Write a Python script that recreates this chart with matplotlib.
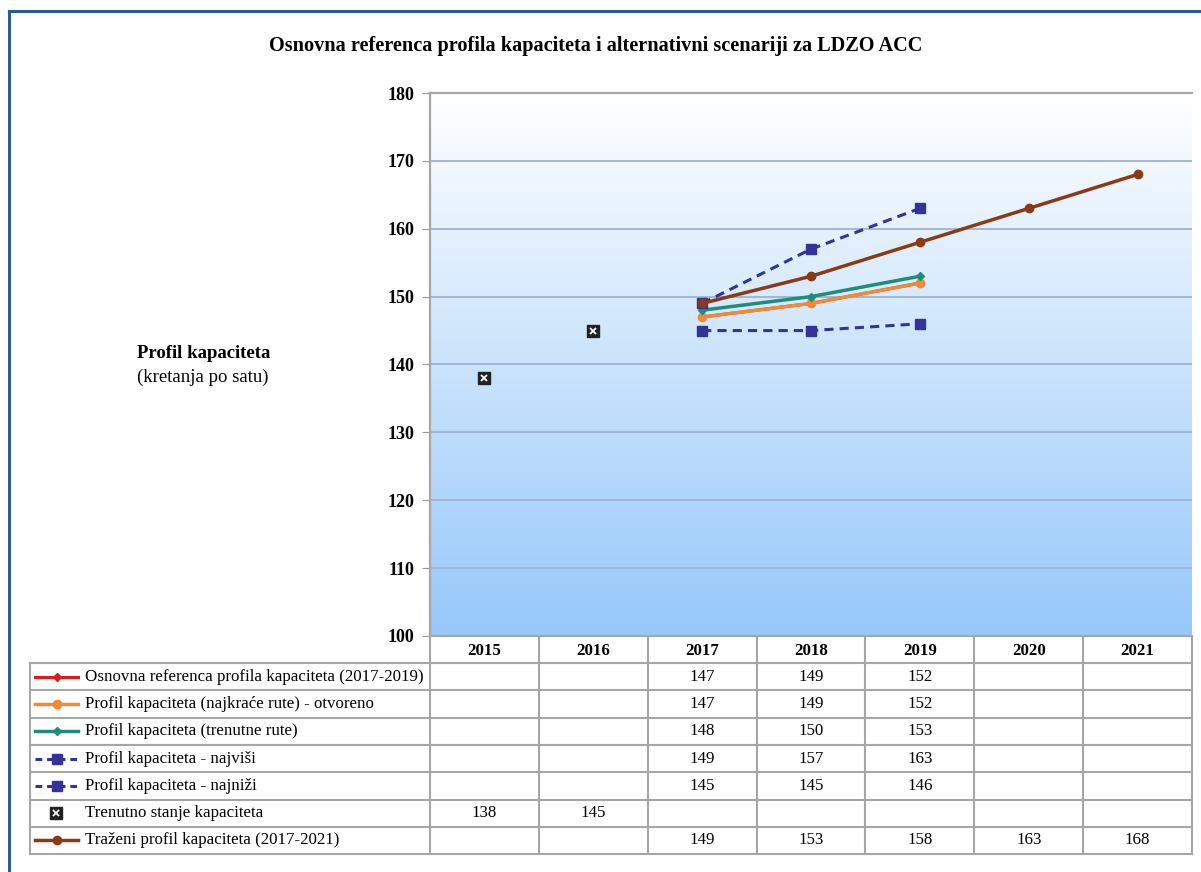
import numpy as np
import matplotlib
matplotlib.use("Agg")
import matplotlib.pyplot as plt
from matplotlib.lines import Line2D

plt.rcParams['font.family'] = ['Liberation Serif', 'DejaVu Serif']

years = ['2015', '2016', '2017', '2018', '2019', '2020', '2021']
title = 'Osnovna referenca profila kapaciteta i alternativni scenariji za LDZO ACC'

lbl_osnovna = 'Osnovna referenca profila kapaciteta (2017-2019)'
lbl_najkrace = 'Profil kapaciteta (najkraće rute) - otvoreno'
lbl_trenutne = 'Profil kapaciteta (trenutne rute)'
lbl_najvisi = 'Profil kapaciteta - najviši'
lbl_najnizi = 'Profil kapaciteta - najniži'
lbl_stanje = 'Trenutno stanje kapaciteta'
lbl_trazeni = 'Traženi profil kapaciteta (2017-2021)'

osnovna = [None, None, 147, 149, 152, None, None]
najkrace = [None, None, 147, 149, 152, None, None]
trenutne = [None, None, 148, 150, 153, None, None]
najvisi = [None, None, 149, 157, 163, None, None]
najnizi = [None, None, 145, 145, 146, None, None]
stanje = [138, 145, None, None, None, None, None]
trazeni = [None, None, 149, 153, 158, 163, 168]

yticks = [100, 110, 120, 130, 140, 150, 160, 170, 180]

W, H = 1201, 872
fig = plt.figure(figsize=(W / 100, H / 100), dpi=100)

def fx(px):
    return px / W

def fy(py):
    return 1 - py / H

ax_l, ax_r, ax_t, ax_b = 430, 1192, 93, 636
ax = fig.add_axes([fx(ax_l), fy(ax_b), fx(ax_r - ax_l), fy(ax_t) - fy(ax_b)])
x = np.arange(len(years))
ax.set_xlim(-0.5, len(years) - 0.5)

# gradient background
grad = np.linspace(0, 1, 256).reshape(-1, 1)
top_c = np.array([1.0, 1.0, 1.0])
bot_c = np.array([0x96, 0xC8, 0xFA]) / 255
img = top_c * (1 - grad[..., None]) + bot_c * grad[..., None]
img = img.reshape(256, 1, 3)
ax.imshow(img, extent=[-0.5, len(years) - 0.5, 100, 180], aspect='auto', zorder=0, origin='upper')
ax.set_xlim(-0.5, len(years) - 0.5)
ax.set_ylim(100, 180)

for yv in yticks[1:-1]:
    ax.axhline(yv, color='#9DB3D4', lw=1.3, zorder=1)

ax.set_yticks(yticks)
ax.set_yticklabels([str(v) for v in yticks], fontsize=13, fontweight='bold')
ax.tick_params(axis='y', length=6, color='#999999', pad=5)
ax.set_xticks([])
for side in ['top', 'left', 'bottom']:
    ax.spines[side].set_color('#A6A6A6')
    ax.spines[side].set_linewidth(1.6)
ax.spines['right'].set_visible(False)

def series(vals):
    xs = [i for i, v in enumerate(vals) if v is not None]
    ys = [v for v in vals if v is not None]
    return xs, ys

c_red = '#E31A1C'
c_orange = '#F28A35'
c_teal = '#1E8C7E'
c_navy = '#333399'
c_brown = '#8B3A14'

st_osn = dict(color=c_red, lw=2.2, marker='D', ms=4)
st_naj = dict(color=c_orange, lw=2.5, marker='o', ms=6)
st_tre = dict(color=c_teal, lw=2.5, marker='D', ms=4.5)
st_vis = dict(color=c_navy, lw=2.2, ls=(0, (3, 2)), marker='s', ms=7)
st_niz = dict(color=c_navy, lw=2.2, ls=(0, (3, 2)), marker='s', ms=7)
st_tra = dict(color=c_brown, lw=2.5, marker='o', ms=6)

for vals, st in [(osnovna, st_osn), (najkrace, st_naj), (trenutne, st_tre),
                 (najvisi, st_vis), (najnizi, st_niz)]:
    xs, ys = series(vals)
    ax.plot(xs, ys, zorder=3, **st)
xs, ys = series(trazeni)
ax.plot(xs, ys, zorder=4, **st_tra)
xs, ys = series(stanje)
ax.plot(xs, ys, ls='none', marker='s', ms=8, mfc='#222222', mec='#222222', zorder=5)
ax.plot(xs, ys, ls='none', marker='x', ms=5, mew=1.3, color='white', zorder=6)

# title and y label
fig.text(fx(596), fy(46), title, fontsize=14.6, fontweight='bold', ha='center', va='center')
fig.text(fx(137), fy(354), 'Profil kapaciteta', fontsize=13.5, fontweight='bold', ha='left', va='center')
fig.text(fx(137), fy(377), '(kretanja po satu)', fontsize=13.5, ha='left', va='center')

# table
gc = '#A6A6A6'
tlw = 1.5
col_edges = np.linspace(ax_l, ax_r, len(years) + 1)
row_h = 27.3
hdr_top, hdr_bot = ax_b, 663
rows = [
    (lbl_osnovna, osnovna, st_osn),
    (lbl_najkrace, najkrace, st_naj),
    (lbl_trenutne, trenutne, st_tre),
    (lbl_najvisi, najvisi, dict(st_vis, ls=(0, (2.2, 1.6)))),
    (lbl_najnizi, najnizi, dict(st_niz, ls=(0, (2.2, 1.6)))),
    (lbl_stanje, stanje, None),
    (lbl_trazeni, trazeni, st_tra),
]
tab_left = 30
tab_bot = hdr_bot + row_h * len(rows)

def hline(y, x0, x1):
    fig.add_artist(Line2D([fx(x0), fx(x1)], [fy(y), fy(y)], color=gc, lw=tlw))

def vline(xp, y0, y1):
    fig.add_artist(Line2D([fx(xp), fx(xp)], [fy(y0), fy(y1)], color=gc, lw=tlw))

for i in range(len(rows) + 1):
    hline(hdr_bot + i * row_h, tab_left, ax_r)
vline(tab_left, hdr_bot, tab_bot)
for ce in col_edges:
    vline(ce, hdr_top, tab_bot)

fs_tab = 12.2
for j, yr in enumerate(years):
    cx = (col_edges[j] + col_edges[j + 1]) / 2
    fig.text(fx(cx), fy((hdr_top + hdr_bot) / 2 + 1), yr, fontsize=fs_tab, fontweight='bold', ha='center', va='center')

for i, (lbl, vals, st) in enumerate(rows):
    cy = hdr_bot + (i + 0.5) * row_h
    if st is not None:
        line_st = {k: v for k, v in st.items() if k not in ('marker', 'ms')}
        fig.add_artist(Line2D([fx(35), fx(78)], [fy(cy), fy(cy)], **line_st))
        fig.add_artist(Line2D([fx(56.5)], [fy(cy)], color=st['color'], marker=st['marker'], ms=st['ms'], ls='none'))
    else:
        fig.add_artist(Line2D([fx(56)], [fy(cy)], marker='s', ms=8, mfc='#222222', mec='#222222', ls='none'))
        fig.add_artist(Line2D([fx(56)], [fy(cy)], marker='x', ms=5, mew=1.3, color='white', ls='none'))
    fig.text(fx(85), fy(cy), lbl, fontsize=fs_tab, ha='left', va='center')
    for j, v in enumerate(vals):
        if v is not None:
            cx = (col_edges[j] + col_edges[j + 1]) / 2
            fig.text(fx(cx), fy(cy), str(v), fontsize=fs_tab, ha='center', va='center')

# outer blue frame (top and left)
fig.add_artist(Line2D([fx(9), fx(W)], [fy(11), fy(11)], color='#2E5A94', lw=2.2))
fig.add_artist(Line2D([fx(9), fx(9)], [fy(11), fy(H)], color='#2E5A94', lw=2.2))

fig.savefig('out.png', dpi=100)
